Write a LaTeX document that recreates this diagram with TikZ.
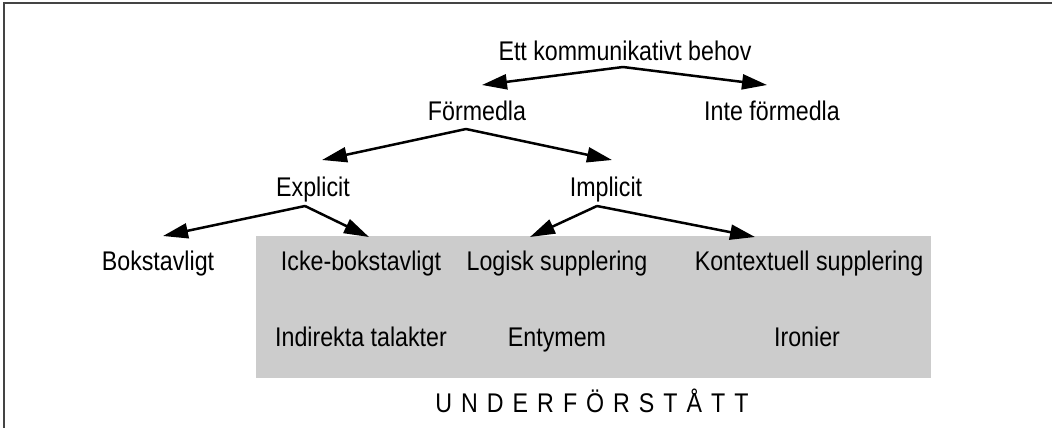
\documentclass[tikz,border=0pt]{standalone}
\usepackage{fontspec}
\setmainfont{Liberation Sans}[FakeStretch=0.86]
\usetikzlibrary{arrows.meta}
\begin{document}
\begin{tikzpicture}[x=1pt,y=-1pt,
  lbl/.style={anchor=base,inner sep=0pt,font=\fontsize{27}{30}\selectfont},
  arr/.style={line width=2.5pt,-{Triangle[length=25pt,width=15pt]}}]
\useasboundingbox (0,0) rectangle (1052,428);
\definecolor{framegray}{HTML}{444444}
\definecolor{boxgray}{HTML}{CCCCCC}
\draw[framegray,line width=2pt] (4,428) -- (4,3) -- (1052,3);
\fill[boxgray] (256,236) rectangle (931,378);
\node[lbl] (ett) at (625,60) {Ett kommunikativt behov};
\node[lbl] (form) at (477,120) {Förmedla};
\node[lbl] (inte) at (772,120) {Inte förmedla};
\node[lbl] (expl) at (313,196) {Explicit};
\node[lbl] (impl) at (606,196) {Implicit};
\node[lbl] (bok) at (158,270) {Bokstavligt};
\node[lbl] (icke) at (361,270) {Icke-bokstavligt};
\node[lbl] (log) at (557,270) {Logisk supplering};
\node[lbl] (kon) at (809,270) {Kontextuell supplering};
\node[lbl] (ind) at (361,346) {Indirekta talakter};
\node[lbl] (ent) at (557,346) {Entymem};
\node[lbl] (iro) at (807,346) {Ironier};
\node[lbl] (und) at (592,412) {U\,\,N\,\,D\,\,E\,\,R\,\,F\,\,Ö\,\,R\,\,S\,\,T\,\,Å\,\,T\,\,T};
\coordinate (ettb) at (623,67);
\coordinate (formt) at (482,85);
\coordinate (intet) at (767,85);
\coordinate (formb) at (466,129);
\coordinate (explt) at (322,160);
\coordinate (implt) at (612,160);
\coordinate (explb) at (305,206);
\coordinate (implb) at (597,206);
\coordinate (bokt) at (163,236);
\coordinate (icket) at (369,237);
\coordinate (logt) at (530,237);
\coordinate (kont) at (755,237);
\draw[arr] (ettb) -- (formt);
\draw[arr] (ettb) -- (intet);
\draw[arr] (formb) -- (explt);
\draw[arr] (formb) -- (implt);
\draw[arr] (explb) -- (bokt);
\draw[arr] (explb) -- (icket);
\draw[arr] (implb) -- (logt);
\draw[arr] (implb) -- (kont);
\end{tikzpicture}
\end{document}
